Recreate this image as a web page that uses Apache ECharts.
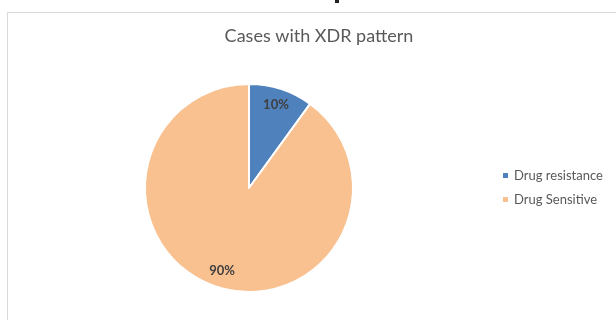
<!DOCTYPE html>
<html>
<head>
<meta charset="utf-8">
<script src="https://cdn.jsdelivr.net/npm/echarts@6/dist/echarts.min.js"></script>
<style>
  html, body { margin: 0; padding: 0; background: #ffffff; }
  #chart { width: 616px; height: 320px; }
</style>
</head>
<body>
<div id="chart"></div>
<script>
// Share of XDR-pattern cases by drug response
const categories = ['Drug resistance', 'Drug Sensitive'];
const shares = [10, 90];
const sliceColors = ['#4f81bd', '#f9c090'];
const chartTitle = 'Cases with XDR pattern';

const FONT = 'Lato, "Open Sans", sans-serif';
const TEXT_GREY = '#595959';

const pieData = categories.map((name, i) => ({
  name: name,
  value: shares[i],
  itemStyle: { color: sliceColors[i] }
}));

const center = [249, 188];
const outerR = 104;

const chart = echarts.init(document.getElementById('chart'), null, { renderer: 'canvas' });
chart.setOption({
  backgroundColor: '#ffffff',
  animation: false,
  title: {
    text: chartTitle,
    left: 314,
    textAlign: 'center',
    top: 22,
    textStyle: { fontFamily: FONT, fontSize: 18, fontWeight: 'normal', color: TEXT_GREY }
  },
  legend: {
    orient: 'vertical',
    left: 496,
    top: 164,
    itemWidth: 7,
    itemHeight: 7,
    itemGap: 11,
    icon: 'rect',
    data: categories,
    textStyle: { fontFamily: FONT, fontSize: 13, color: TEXT_GREY, padding: [0, 0, 0, 0] }
  },
  graphic: [
    {
      // chart frame
      type: 'rect',
      silent: true,
      shape: { x: 7.5, y: 12.5, width: 700, height: 400 },
      style: { fill: 'none', stroke: '#d9d9d9', lineWidth: 1 }
    },
    {
      type: 'rect',
      silent: true,
      shape: { x: 335, y: 0, width: 4, height: 3 },
      style: { fill: '#222222' }
    }
  ],
  series: [
    {
      type: 'pie',
      center: center,
      radius: [0, outerR],
      startAngle: 90,
      clockwise: true,
      label: { show: false },
      labelLine: { show: false },
      itemStyle: { borderColor: '#ffffff', borderWidth: 2 },
      emphasis: { disabled: true },
      data: pieData
    },
    {
      // transparent ring that carries the percentage labels
      type: 'pie',
      center: center,
      radius: [outerR * 0.62, outerR],
      startAngle: 90,
      clockwise: true,
      silent: true,
      legendHoverLink: false,
      itemStyle: { color: 'rgba(0,0,0,0)', borderWidth: 0 },
      label: {
        show: true,
        position: 'inside',
        formatter: '{d}%',
        fontFamily: FONT,
        fontSize: 13,
        fontWeight: 'bold',
        color: '#404040'
      },
      labelLine: { show: false },
      emphasis: { disabled: true },
      data: categories.map((name, i) => ({ name: name + ' ', value: shares[i] }))
    }
  ]
});
</script>
</body>
</html>
